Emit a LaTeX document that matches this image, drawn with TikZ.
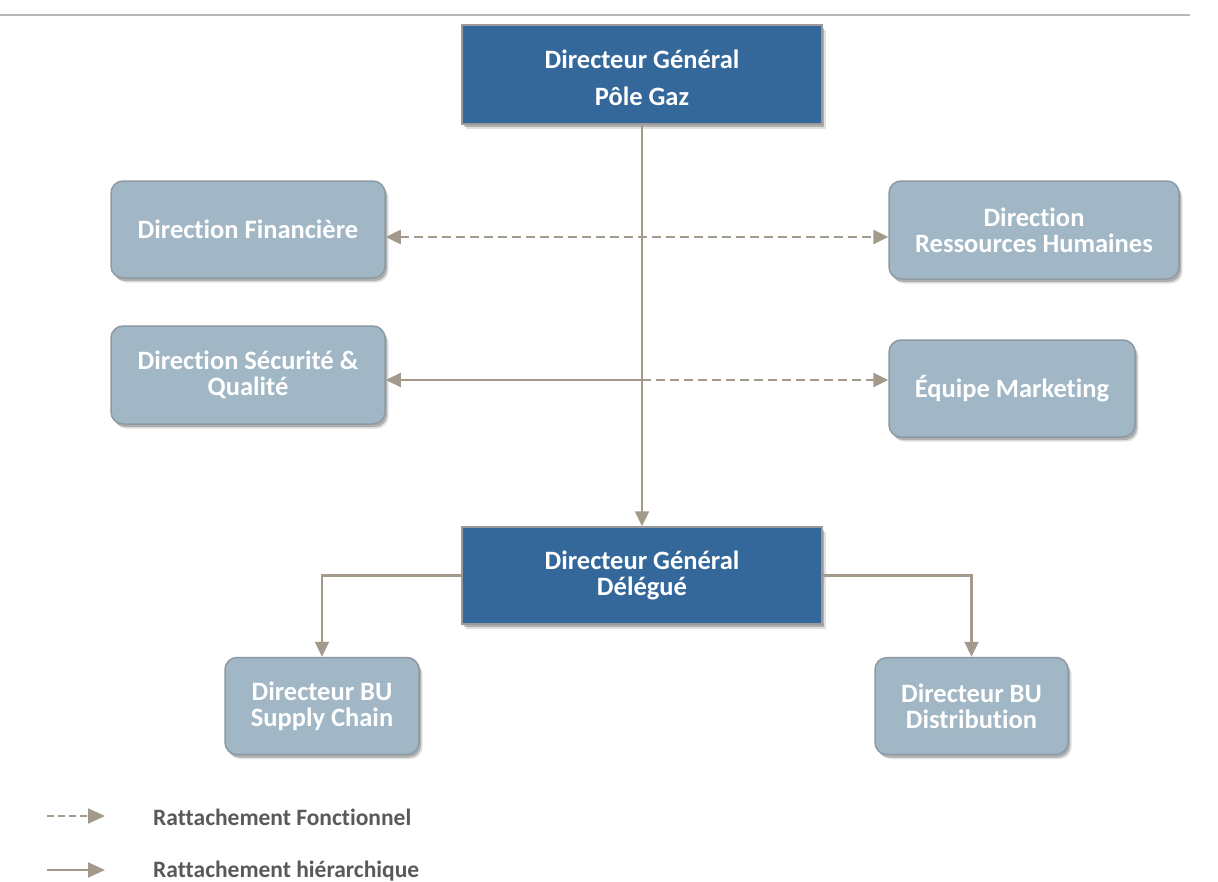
\documentclass[tikz,border=0pt]{standalone}
\usepackage{fontspec}
\setmainfont{Carlito}[Ligatures=NoCommon]
\usetikzlibrary{arrows.meta,shadows,calc}
\definecolor{darkbox}{HTML}{34679A}
\definecolor{lightbox}{HTML}{A1B7C5}
\definecolor{lightedge}{HTML}{8E9AA3}
\definecolor{darkedge}{HTML}{9A9A9A}
\definecolor{link}{HTML}{A39A8C}
\definecolor{legendtext}{HTML}{595959}
\tikzset{
  boxshadow/.style={
    drop shadow={shadow xshift=3.5pt,shadow yshift=-4.5pt,fill=black,opacity=0.12},
    drop shadow={shadow xshift=2pt,shadow yshift=-3pt,fill=black,opacity=0.22}},
  headbox/.style={draw=darkedge,line width=1.5pt,fill=darkbox,text=white,
    font=\bfseries\fontsize{26.5}{26}\selectfont,align=center,boxshadow},
  unitbox/.style={draw=lightedge,line width=1.5pt,fill=lightbox,text=white,rounded corners=12pt,
    font=\bfseries\fontsize{26.5}{26}\selectfont,align=center,boxshadow},
  solidlink/.style={draw=link,line width=2.3pt,-{Triangle[length=15pt,width=14pt]}},
  dashlink/.style={draw=link,line width=2.6pt,dash pattern=on 9pt off 5pt,-{Triangle[length=15pt,width=14pt]}},
  legendlabel/.style={text=legendtext,font=\bfseries\fontsize{23.5}{28}\selectfont,anchor=west,inner sep=0pt}
}
\begin{document}
\begin{tikzpicture}[x=1pt,y=-1pt]
\useasboundingbox (0,0) rectangle (1218,881);
% rule along the top
\draw[line width=2pt,black!28] (0,15) -- (1190,15);

% boxes
\node[headbox,minimum width=360pt,minimum height=99pt] (top) at (642,74.5) {};
\node[text=white,font=\bfseries\fontsize{26.5}{37}\selectfont,align=center] (toptext) at (642,77.5)
  {Directeur Général\\Pôle Gaz};
\node[unitbox,minimum width=274pt,minimum height=97pt] (fin) at (248,229.5) {Direction Financière};
\node[unitbox,minimum width=290pt,minimum height=98pt] (rh) at (1034,230) {Direction\\Ressources Humaines};
\node[unitbox,minimum width=274pt,minimum height=98pt] (sec) at (248,375) {Direction Sécurité \&\\Qualité};
\node[unitbox,minimum width=246pt,minimum height=97pt] (mkt) at (1012,388.5) {Équipe Marketing};
\node[headbox,minimum width=360pt,minimum height=97pt] (dgd) at (642,575.5) {Directeur Général\\Délégué};
\node[unitbox,minimum width=194pt,minimum height=97pt] (sc) at (322,706) {Directeur BU\\Supply Chain};
\node[unitbox,minimum width=193pt,minimum height=97pt] (dist) at (971.5,706) {Directeur BU\\Distribution};

% links
\coordinate (cross) at (642,380);
\draw[dashlink,{Triangle[length=15pt,width=14pt]}-{Triangle[length=15pt,width=14pt]}]
  ($(fin.east)+(0,7.5)$) -- ($(rh.west)+(0,7)$);
\draw[solidlink] (cross) -- (sec.east |- cross);
\draw[dashlink] (cross) -- (mkt.west |- cross);
\draw[solidlink] (top.south) -- (dgd.north);
\draw[solidlink] (dgd.west) -| (sc.north);
\draw[solidlink] (dgd.east) -| (dist.north);

% legend
\coordinate (l1a) at (47,816);
\coordinate (l1b) at (105,816);
\coordinate (l2a) at (47,870);
\coordinate (l2b) at (105,870);
\draw[dashlink,line width=2.3pt,dash pattern=on 7pt off 4pt,-{Triangle[length=17pt,width=15pt]}] (l1a) -- (l1b);
\draw[solidlink,-{Triangle[length=17pt,width=15pt]}] (l2a) -- (l2b);
\node[legendlabel] (lf) at (153,817) {Rattachement Fonctionnel};
\node[legendlabel] (lh) at (153,871) {Rattachement hiérarchique};
\end{tikzpicture}
\end{document}
